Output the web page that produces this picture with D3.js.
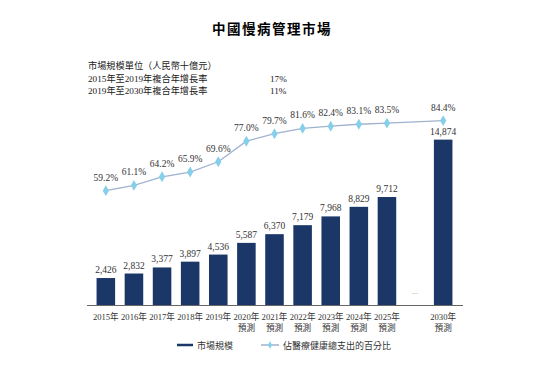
<!DOCTYPE html>
<html>
<head>
<meta charset="utf-8">
<script src="https://cdn.jsdelivr.net/npm/d3@7"></script>
<style>
  body { margin: 0; background: #fff; }
  svg text { font-family: "Liberation Serif", "Noto Sans CJK TC", serif; }
</style>
</head>
<body>
<svg id="chart" width="545" height="366"></svg>
<script>
const years = ["2015", "2016", "2017", "2018", "2019", "2020", "2021", "2022", "2023", "2024", "2025", "gap", "2030"];
const forecastYears = ["2020", "2021", "2022", "2023", "2024", "2025", "2030"];
const marketSize = [2426, 2832, 3377, 3897, 4536, 5587, 6370, 7179, 7968, 8829, 9712, null, 14874];
const healthShare = [59.2, 61.1, 64.2, 65.9, 69.6, 77.0, 79.7, 81.6, 82.4, 83.1, 83.5, null, 84.4];
const notes = [
  ["市場規模單位（人民幣十億元）", ""],
  ["2015年至2019年複合年增長率", "17%"],
  ["2019年至2030年複合年增長率", "11%"]
];
const legendItems = ["市場規模", "佔醫療健康總支出的百分比"];

const svg = d3.select("#chart");
const barColor = "#1b3768";
const lineColor = "#9fb2cf";
const dotColor = "#86cfeb";

const x = d3.scaleBand().domain(years).range([87, 462]).padding(0.34);
const yBar = d3.scaleLinear().domain([0, 16000]).range([305, 127.1]);
const yLine = d3.scaleLinear().domain([40, 90]).range([244, 105.1]);

// title
svg.append("text")
  .attr("x", 272).attr("y", 34)
  .attr("text-anchor", "middle")
  .attr("font-size", 13.5)
  .attr("font-weight", "bold")
  .style("font-family", "'Noto Sans CJK TC', sans-serif")
  .attr("letter-spacing", 1.5)
  .text("中國慢病管理市場");

// notes
notes.forEach((n, i) => {
  svg.append("text").attr("x", 88).attr("y", 69 + i * 12.5)
    .attr("font-size", 9.2).attr("fill", "#222").text(n[0]);
  if (n[1]) svg.append("text").attr("x", 270).attr("y", 69 + i * 12.5)
    .attr("font-size", 9.2).attr("fill", "#222").text(n[1]);
});

const barData = years.map((y, i) => ({ year: y, value: marketSize[i] })).filter(d => d.value != null);
const lineData = years.map((y, i) => ({ year: y, value: healthShare[i] })).filter(d => d.value != null);

// bars
svg.selectAll("rect.bar").data(barData).enter().append("rect")
  .attr("class", "bar")
  .attr("x", d => x(d.year))
  .attr("y", d => yBar(d.value))
  .attr("width", x.bandwidth())
  .attr("height", d => yBar(0) - yBar(d.value))
  .attr("fill", barColor);

svg.selectAll("text.barlabel").data(barData).enter().append("text")
  .attr("x", d => x(d.year) + x.bandwidth() / 2)
  .attr("y", d => yBar(d.value) - 5)
  .attr("text-anchor", "middle")
  .attr("font-size", 9.5)
  .attr("fill", "#333")
  .text(d => d3.format(",")(d.value));

// gap marker
svg.append("text")
  .attr("x", x("gap") + x.bandwidth() / 2).attr("y", 294)
  .attr("text-anchor", "middle").attr("font-size", 8).attr("fill", "#c98a4b")
  .text("...");

// axis line
svg.append("line")
  .attr("x1", 87).attr("x2", 463).attr("y1", 305.5).attr("y2", 305.5)
  .attr("stroke", "#666").attr("stroke-width", 1.2);

// x labels
years.forEach(y => {
  if (y === "gap") return;
  const cx = x(y) + x.bandwidth() / 2;
  svg.append("text").attr("x", cx).attr("y", 320)
    .attr("text-anchor", "middle").attr("font-size", 8.6).attr("fill", "#333")
    .text(y + "年");
  if (forecastYears.includes(y)) {
    svg.append("text").attr("x", cx).attr("y", 331)
      .attr("text-anchor", "middle").attr("font-size", 8.6).attr("fill", "#333")
      .text("預測");
  }
});

// line
const line = d3.line()
  .x(d => x(d.year) + x.bandwidth() / 2)
  .y(d => yLine(d.value));

svg.append("path").datum(lineData)
  .attr("d", line)
  .attr("fill", "none")
  .attr("stroke", lineColor)
  .attr("stroke-width", 1.3);

const diamond = d3.symbol().type(d3.symbolDiamond).size(34);
svg.selectAll("path.dot").data(lineData).enter().append("path")
  .attr("class", "dot")
  .attr("d", diamond)
  .attr("transform", d => `translate(${x(d.year) + x.bandwidth() / 2},${yLine(d.value)})`)
  .attr("fill", dotColor);

svg.selectAll("text.linelabel").data(lineData).enter().append("text")
  .attr("x", d => x(d.year) + x.bandwidth() / 2)
  .attr("y", d => yLine(d.value) - 10)
  .attr("text-anchor", "middle")
  .attr("font-size", 9.5)
  .attr("fill", "#333")
  .text(d => d.value.toFixed(1) + "%");

// legend
const lg = svg.append("g");
lg.append("line").attr("x1", 177).attr("x2", 193).attr("y1", 345).attr("y2", 345)
  .attr("stroke", barColor).attr("stroke-width", 2.5);
lg.append("text").attr("x", 197).attr("y", 348.5).attr("font-size", 9).attr("fill", "#333")
  .style("font-family", "'Noto Sans CJK TC', sans-serif").text(legendItems[0]);
lg.append("line").attr("x1", 261).attr("x2", 279).attr("y1", 345).attr("y2", 345)
  .attr("stroke", lineColor).attr("stroke-width", 1.5);
lg.append("path").attr("d", d3.symbol().type(d3.symbolDiamond).size(16))
  .attr("transform", "translate(270,345)").attr("fill", dotColor);
lg.append("text").attr("x", 283).attr("y", 348.5).attr("font-size", 9).attr("fill", "#333")
  .style("font-family", "'Noto Sans CJK TC', sans-serif").text(legendItems[1]);
</script>
</body>
</html>
